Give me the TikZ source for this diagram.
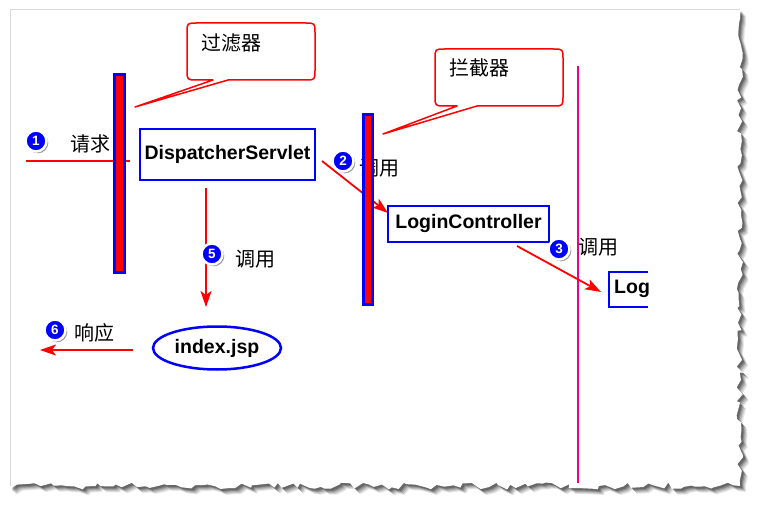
\documentclass[tikz,border=0pt]{standalone}
\usepackage{fontspec}
\setmainfont{Liberation Sans}
\newfontfamily\cjk{Noto Sans CJK SC}
\usetikzlibrary{arrows.meta,shapes.geometric,shadows,decorations.pathmorphing}
\begin{document}
\begin{tikzpicture}[x=1pt,y=-1pt,
  zz/.style={decoration={random steps,segment length=6pt,amplitude=3.5pt}},
  bar/.style={draw=blue,fill=red,line width=3pt,inner sep=0pt},
  box/.style={draw=blue,fill=white,line width=2pt,inner sep=0pt,font=\bfseries\fontsize{19.5}{19.5}\selectfont},
  lbl/.style={inner sep=0pt,font=\cjk\fontsize{20}{20}\selectfont},
  conn/.style={draw=red,line width=1.8pt},
  tip/.style={-{Stealth[length=16pt,width=11pt,inset=4pt]}},
  badge/.style={circle,fill=blue,draw=white,line width=2.5pt,minimum size=21pt,inner sep=0pt,
    text=white,font=\bfseries\fontsize{13.5}{13.5}\selectfont,
    drop shadow={shadow xshift=1.8pt,shadow yshift=-1.8pt,opacity=0.4,fill=black}},
  callout/.style={draw=red,fill=white,line width=1.5pt,line join=round}
]
\useasboundingbox (0,0) rectangle (762,510);
% page with torn edges, blurred shadow
\foreach \s/\o in {6/0.10,5/0.12,4/0.15,3/0.2,2/0.25}{
  \begin{scope}[xshift=\s pt,yshift=-\s pt]
    \pgfmathsetseed{11}
    \fill[black,opacity=\o] (10,10) -- (740,10) decorate[zz]{-- (740,486) -- (10,486)} -- cycle;
  \end{scope}
}
\pgfmathsetseed{11}
\fill[white] (10,10) -- (740,10) decorate[zz]{-- (740,486) -- (10,486)} -- cycle;
\draw[black!15,line width=1pt] (10,486) -- (10,10) -- (740,10);

% callouts
\draw[callout] (213,80) -- (135,107) -- (228,80) -- (305,80) .. controls (315,80) .. (315,70)
  -- (315,33) .. controls (315,23) .. (305,23) -- (197,23) .. controls (187,23) .. (187,33)
  -- (187,70) .. controls (187,80) .. (197,80) -- cycle;
\node[lbl] (c1) at (231,43) {过滤器};
\draw[callout] (457,106) -- (383,134) -- (477,106) -- (553,106) .. controls (563,106) .. (563,96)
  -- (563,59) .. controls (563,49) .. (553,49) -- (445,49) .. controls (435,49) .. (435,59)
  -- (435,96) .. controls (435,106) .. (445,106) -- cycle;
\node[lbl] (c2) at (479,68) {拦截器};

% magenta line
\coordinate (m1) at (578,66);
\coordinate (m2) at (578,483);
\draw[magenta,line width=1.5pt] (m1) -- (m2);

% labels
\node[lbl] (t1) at (90,144) {请求};
\node[lbl] (t2) at (379,168) {调用};
\node[lbl] (t3) at (598,247) {调用};
\node[lbl] (t5) at (255,259) {调用};
\node[lbl] (t6) at (94,333) {响应};

% connectors
\coordinate (p1s) at (26,161);
\coordinate (p1e) at (130,161);
\draw[conn] (p1s) -- (p1e);
\coordinate (p2s) at (322,161);
\coordinate (p2e) at (388,213);
\draw[conn,tip] (p2s) -- (p2e);
\coordinate (p3s) at (517,246);
\coordinate (p3e) at (601,292);
\draw[conn,tip] (p3s) -- (p3e);
\coordinate (p5s) at (206,188);
\coordinate (p5e) at (206,307);
\draw[conn,tip] (p5s) -- (p5e);
\coordinate (p6s) at (133,350);
\coordinate (p6e) at (40,350);
\draw[conn,tip] (p6s) -- (p6e);

% bars
\node[bar,minimum width=10pt,minimum height=198pt] (f1) at (119.5,173.5) {};
\node[bar,minimum width=9pt,minimum height=190pt] (f2) at (368,209.5) {};

% boxes
\node[box,minimum width=175pt,minimum height=51pt] (ds) at (227.5,154.5) {DispatcherServlet};
\node[box,minimum width=161pt,minimum height=36pt] (lc) at (468.5,224) {LoginController};
\node[ellipse,draw=blue,fill=white,line width=2.5pt,minimum width=128pt,minimum height=43pt,inner sep=0pt,
  font=\bfseries\fontsize{19.5}{19.5}\selectfont] (idx) at (217,348) {index.jsp};
\draw[blue,line width=2pt] (648,272) -- (609,272) -- (609,307) -- (648,307);
\begin{scope}
  \clip (600,260) rectangle (648,320);
  \node[inner sep=0pt,anchor=west,font=\bfseries\fontsize{19.5}{19.5}\selectfont] (log) at (614,289) {Log};
\end{scope}

% badges
\node[badge] (b1) at (36,141) {1};
\node[badge] (b2) at (343,161) {2};
\node[badge] (b3) at (559,249) {3};
\node[badge] (b5) at (212,254) {5};
\node[badge] (b6) at (55,330) {6};
\end{tikzpicture}
\end{document}
